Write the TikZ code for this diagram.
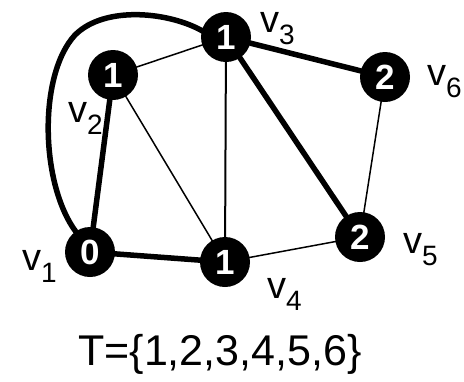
\documentclass[tikz,border=0pt]{standalone}
\usepackage{fontspec}
\setmainfont{Liberation Sans}
\usepackage{tikz}
\usetikzlibrary{backgrounds}
\newcommand{\vname}[1]{v\raisebox{-12pt}{\fontsize{28}{28}\selectfont #1}}

\begin{document}
\begin{tikzpicture}[x=1pt,y=1pt,
  vertex/.style={circle,fill=black,text=white,inner sep=0pt,minimum size=50pt,font=\fontsize{35}{35}\selectfont\bfseries},
  vlabel/.style={anchor=base west,inner sep=0pt,font=\fontsize{38}{38}\selectfont},
  heavy/.style={line width=5.5pt,shorten <=-2pt,shorten >=-2pt},
  light/.style={line width=1.5pt,shorten <=-2pt,shorten >=-2pt}
]
\useasboundingbox (0,0) rectangle (464,-381);
% vertices
\node[vertex] (v1) at (90,-252) {0};
\node[vertex] (v2) at (113,-75) {1};
\node[vertex] (v3) at (226,-37) {1};
\node[vertex] (v4) at (225,-262) {1};
\node[vertex] (v5) at (360,-237) {2};
\node[vertex] (v6) at (385,-77) {2};
% names
\node[vlabel] (l1) at (22,-270) {\vname{1}};
\node[vlabel] (l2) at (68,-122) {\vname{2}};
\node[vlabel] (l3) at (260,-32) {\vname{3}};
\node[vlabel] (l4) at (267,-298) {\vname{4}};
\node[vlabel] (l5) at (403,-253) {\vname{5}};
\node[vlabel] (l6) at (427,-85) {\vname{6}};
\node[anchor=base,inner sep=0pt,font=\fontsize{43}{43}\selectfont] (set) at (220,-365) {T=\{1,2,3,4,5,6\}};
% edges
\begin{scope}[on background layer]
\draw[light] (v2) -- (v3);
\draw[light] (v2) -- (v4);
\draw[light,line width=2pt] (v3) -- (v4);
\draw[light] (v4) -- (v5);
\draw[light] (v5) -- (v6);
\draw[heavy] (v1) -- (v2);
\draw[heavy] (v1) -- (v4);
\draw[heavy] (v3) -- (v6);
\draw[heavy] (v3) -- (v5);
\draw[heavy] (v1.125) .. controls (40,-185) and (38,-75) .. (75,-35)
  .. controls (105,-5) and (170,-12) .. (v3.165);
\end{scope}
\end{tikzpicture}
\end{document}
